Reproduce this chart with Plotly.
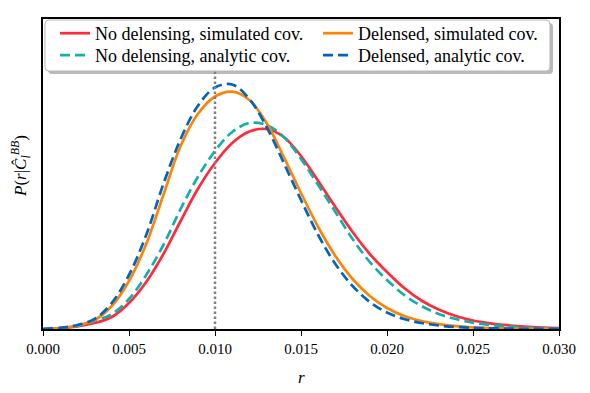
import plotly.graph_objects as go

# ---- data (arbitrary density units) ----
r_grid = [0.000, 0.001, 0.002, 0.003, 0.004, 0.005, 0.006, 0.007, 0.008, 0.009,
          0.010, 0.011, 0.012, 0.013, 0.014, 0.015, 0.016, 0.017, 0.018, 0.019,
          0.020, 0.021, 0.022, 0.023, 0.024, 0.025, 0.026, 0.027, 0.028, 0.029, 0.030]

nodelens_sim = [0, 0.7, 2.5, 6, 12, 26, 47, 75, 108, 140,
                166, 186, 197.5, 200, 192, 173, 148, 122, 97, 75,
                57, 41, 28.5, 19.5, 13, 8.5, 5.7, 3.8, 2.4, 1.5, 1.0]
nodelens_ana = [0, 0.8, 3, 8, 15, 30, 54, 84, 120, 152,
                178, 197, 206, 204, 192, 170, 144, 117, 90, 67,
                49, 34, 23, 15, 10, 6.3, 4, 2.4, 1.4, 0.8, 0.4]
delens_sim = [0, 1, 3.5, 9, 23, 48, 85, 134, 183, 215,
              232.5, 237.3, 229, 206, 172, 136, 102, 73, 50, 33,
              21, 13, 8, 4.8, 2.8, 1.6, 0.9, 0.5, 0.3, 0.15, 0.1]
delens_ana = [0, 1.2, 4, 10, 26, 54, 94, 145, 190, 223,
              241.5, 244.5, 230, 202, 166, 129, 94, 65, 43, 27,
              16.5, 10, 6, 3.5, 2, 1.2, 0.7, 0.4, 0.2, 0.1, 0.05]

r_true = 0.010
y_top = 310

x_ticks = [0.000, 0.005, 0.010, 0.015, 0.020, 0.025, 0.030]
x_ticklabels = ["0.000", "0.005", "0.010", "0.015", "0.020", "0.025", "0.030"]

names = ["No delensing, simulated cov.", "No delensing, analytic cov.",
         "Delensed, simulated cov.", "Delensed, analytic cov."]
colors = ["#ff2a3c", "#12b0aa", "#ff8307", "#0065bd"]
series = [nodelens_sim, nodelens_ana, delens_sim, delens_ana]
dashes = ["solid", "10px,5px", "solid", "10px,5px"]
legends = ["legend", "legend3", "legend2", "legend4"]

FONT = "Liberation Serif"

fig = go.Figure()
for name, col, ys, dash, lg in zip(names, colors, series, dashes, legends):
    fig.add_trace(go.Scatter(
        x=r_grid, y=ys, mode="lines", name=name,
        line=dict(color=col, width=2.7, dash=dash, shape="spline", smoothing=1.0),
        legend=lg,
    ))

fig.add_trace(go.Scatter(
    x=[r_true, r_true], y=[0, y_top], mode="lines", showlegend=False,
    line=dict(color="#808080", width=2.5, dash="2.5px,2.5px"),
    hoverinfo="skip",
))

# geometry helpers (plot area: x 43..559, y 19..329 in pixels)
L, R, T, B = 43, 559, 19, 329
W, H = R - L, B - T

def px(x):
    return (x - L) / W

def py(y):
    return (B - y) / H

def rounded_rect(x0, y0, x1, y1, rad=4):
    rx, ry = rad / W, rad / H
    X0, X1 = px(x0), px(x1)
    Y0, Y1 = py(y1), py(y0)  # bottom, top in paper
    return (f"M{X0+rx},{Y1} L{X1-rx},{Y1} Q{X1},{Y1} {X1},{Y1-ry} "
            f"L{X1},{Y0+ry} Q{X1},{Y0} {X1-rx},{Y0} L{X0+rx},{Y0} "
            f"Q{X0},{Y0} {X0},{Y0+ry} L{X0},{Y1-ry} Q{X0},{Y1} {X0+rx},{Y1} Z")

shapes = [
    dict(type="path", xref="paper", yref="paper", layer="above",
         path=rounded_rect(48, 23, 553, 74),
         fillcolor="rgba(128,128,128,0.55)", line=dict(width=0)),
    dict(type="path", xref="paper", yref="paper", layer="above",
         path=rounded_rect(45, 20, 550, 71),
         fillcolor="white", line=dict(color="#b8b8b8", width=1)),
]

annotations = [
    dict(text="<i>r</i>", x=0.5, y=py(377), xref="paper", yref="paper",
         showarrow=False, font=dict(family=FONT, size=17, color="black"),
         xanchor="center", yanchor="middle"),
    dict(text="<i>P</i>(<i>r</i>|<i>Ĉ</i><sub><i>l</i></sub><sup><i>BB</i></sup>)",
         x=px(20), y=py(166), xref="paper", yref="paper", textangle=-90,
         showarrow=False, font=dict(family=FONT, size=17, color="black"),
         xanchor="center", yanchor="middle"),
]

legend_common = dict(
    bgcolor="rgba(0,0,0,0)", borderwidth=0,
    font=dict(family=FONT, size=18, color="black"),
    orientation="v", xanchor="left", yanchor="top", tracegroupgap=0,
)

row1_top, row2_top = 15, 37
col1_left, col2_left = 55, 318

fig.update_layout(
    width=590, height=393,
    margin=dict(l=L, r=590 - R, t=T, b=393 - B, pad=0),
    paper_bgcolor="white", plot_bgcolor="white",
    showlegend=True,
    legend=dict(x=px(col1_left), y=py(row1_top), **legend_common),
    legend2=dict(x=px(col2_left), y=py(row1_top), **legend_common),
    legend3=dict(x=px(col1_left), y=py(row2_top), **legend_common),
    legend4=dict(x=px(col2_left), y=py(row2_top), **legend_common),
    shapes=shapes, annotations=annotations,
    font=dict(family=FONT, size=15, color="black"),
    xaxis=dict(range=[0, 0.030], tickvals=x_ticks, ticktext=x_ticklabels,
               ticks="outside", ticklen=5, tickwidth=1.2, tickcolor="black",
               showline=True, linecolor="black", linewidth=1.5, mirror=True,
               showgrid=False, zeroline=False, automargin=False,
               tickfont=dict(family=FONT, size=15, color="black")),
    yaxis=dict(range=[0, y_top], showticklabels=False, ticks="",
               showline=True, linecolor="black", linewidth=1.5, mirror=True,
               showgrid=False, zeroline=False, automargin=False),
)

fig.write_html("out.html", config={"displayModeBar": False},
               post_script="document.body.style.margin='0px';")
